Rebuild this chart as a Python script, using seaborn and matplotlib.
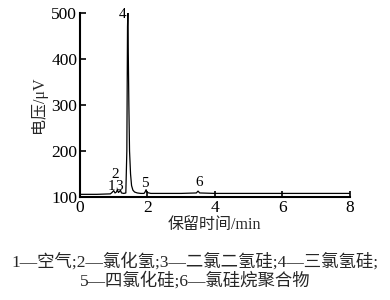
import matplotlib
matplotlib.use("Agg")
import matplotlib.pyplot as plt
import seaborn as sns
import pandas as pd

# Chromatogram trace (retention time in min, voltage in μV)
time_min = [0.0, 0.5, 0.9, 0.95, 1.0, 1.04, 1.08, 1.11, 1.14, 1.17, 1.2, 1.23, 1.3, 1.36,
            1.39, 1.41, 1.42, 1.43, 1.45, 1.47, 1.5, 1.53, 1.57, 1.62, 1.7, 1.8, 1.9,
            1.93, 1.96, 1.99, 2.1, 3.0, 3.45, 3.5, 3.55, 4.0, 5.0, 6.0, 7.0, 8.0]
voltage_uv = [106, 106, 107, 110, 114, 109, 111, 116, 110, 112, 115, 109, 108, 109,
              200, 470, 500, 430, 300, 200, 150, 125, 115, 111, 109, 108, 108,
              111, 116, 110, 108, 108, 109, 113, 109, 108, 108, 108, 108, 108]

peak_labels = ["1", "2", "3", "4", "5", "6"]
peak_label_x = [0.92, 1.04, 1.17, 1.27, 1.93, 3.52]
peak_label_y = [115, 141, 115, 489, 122, 125]

x_ticks = [0, 2, 4, 6, 8]
y_ticks = [100, 200, 300, 400, 500]
x_label = "保留时间/min"
y_label = "电压/μV"
caption_lines = ["1—空气;2—氯化氢;3—二氯二氢硅;4—三氯氢硅;",
                 "5—四氯化硅;6—氯硅烷聚合物"]

sns.set_style("ticks")
plt.rcParams["font.family"] = ["Liberation Serif", "Noto Sans CJK SC", "DejaVu Sans"]

fig = plt.figure(figsize=(3.9, 3.0), dpi=100)
ax = fig.add_axes([0.205, 0.343, 0.692, 0.614])

df = pd.DataFrame({"t": time_min, "v": voltage_uv})
sns.lineplot(data=df, x="t", y="v", ax=ax, color="black", linewidth=0.9)

for lab, lx, ly in zip(peak_labels, peak_label_x, peak_label_y):
    ax.text(lx, ly, lab, ha="center", va="baseline", fontsize=11, color="black")

ax.set_xlim(0, 8)
ax.set_ylim(100, 500)
ax.set_xticks(x_ticks)
ax.set_yticks(y_ticks)
ax.tick_params(direction="in", length=4, width=1.2, labelsize=12.5, colors="black", pad=2)
for s in ["top", "right"]:
    ax.spines[s].set_visible(False)
for s in ["left", "bottom"]:
    ax.spines[s].set_linewidth(1.5)
    ax.spines[s].set_color("black")
ax.set_xlabel(x_label, fontsize=11.5, labelpad=1)
ax.set_ylabel(y_label, fontsize=11.5, labelpad=3)

fig.text(0.5, 0.127, caption_lines[0], ha="center", va="center", fontsize=12.5)
fig.text(0.5, 0.063, caption_lines[1], ha="center", va="center", fontsize=12.5)

fig.savefig("out.png", dpi=100)
